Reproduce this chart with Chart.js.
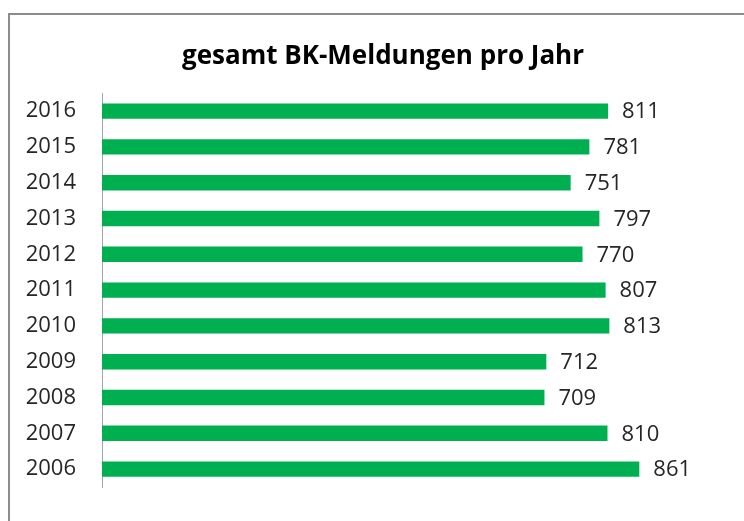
<!DOCTYPE html>
<html>
<head>
<meta charset="utf-8">
<script src="https://cdn.jsdelivr.net/npm/chart.js@4/dist/chart.umd.min.js"></script>
<style>
  html, body { margin: 0; padding: 0; background: #fff; overflow: hidden; }
  #wrap { position: relative; width: 744px; height: 521px; overflow: hidden; }
  #myChart { position: absolute; left: 0; top: 0; }
  #frame { position: absolute; left: 8px; top: 13px; width: 800px; height: 600px;
           border: 2px solid #8c8c8c; box-sizing: border-box; pointer-events: none; }
</style>
</head>
<body>
<div id="wrap">
  <!-- canvas a bit wider than the window so the title centres like the original -->
  <canvas id="myChart" width="766" height="521"></canvas>
  <div id="frame"></div>
</div>
<script>
const years = ['2016', '2015', '2014', '2013', '2012', '2011', '2010', '2009', '2008', '2007', '2006'];
const meldungen = [811, 781, 751, 797, 770, 807, 813, 712, 709, 810, 861];
const titleText = 'gesamt BK-Meldungen pro Jahr';

const fontFamily = '"Open Sans", Lato, sans-serif';

// draw the value next to each bar end
const valueLabels = {
    id: 'valueLabels',
    afterDatasetsDraw(chart) {
        const ctx = chart.ctx;
        const meta = chart.getDatasetMeta(0);
        ctx.save();
        ctx.font = '22px ' + fontFamily;
        ctx.fillStyle = '#262626';
        ctx.textAlign = 'left';
        ctx.textBaseline = 'middle';
        meta.data.forEach(function(bar, i) {
            ctx.fillText(String(meldungen[i]), bar.x + 14, bar.y + 1);
        });
        ctx.restore();
    }
};

const ctx = document.getElementById('myChart').getContext('2d');
new Chart(ctx, {
    type: 'bar',
    data: {
        labels: years,
        datasets: [{
            label: 'BK-Meldungen',
            data: meldungen,
            backgroundColor: '#00b050',
            barPercentage: 0.43,
            categoryPercentage: 1.0
        }]
    },
    options: {
        indexAxis: 'y',
        responsive: false,
        animation: false,
        layout: {
            padding: { left: 0, right: 0, top: 0, bottom: 34 }
        },
        scales: {
            x: {
                display: false,
                min: 0,
                max: 1064
            },
            y: {
                afterFit(scale) {
                    scale.width = 102;
                    // tick padding would otherwise eat into the bottom
                    scale.paddingTop = 0;
                    scale.paddingBottom = 0;
                },
                grid: { display: false, drawTicks: false },
                border: { display: true, color: '#a6a6a6', width: 1 },
                ticks: {
                    padding: 26,
                    color: '#262626',
                    font: { family: fontFamily, size: 22 }
                }
            }
        },
        plugins: {
            legend: { display: false },
            tooltip: { enabled: false },
            title: {
                display: true,
                text: titleText,
                color: '#000',
                font: { family: fontFamily, size: 26, weight: 'bold' },
                padding: { top: 41, bottom: 21 }
            }
        }
    },
    plugins: [valueLabels]
});
</script>
</body>
</html>
